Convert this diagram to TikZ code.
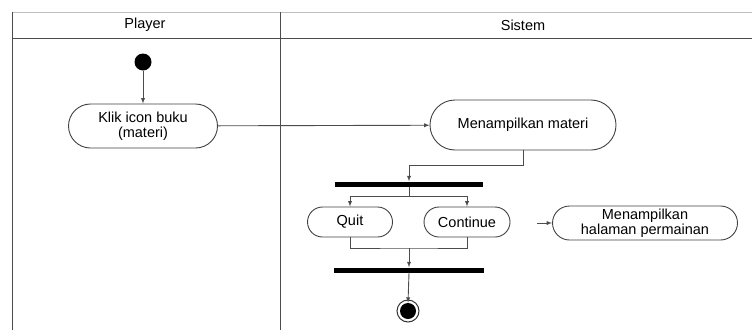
\documentclass[tikz,border=0pt]{standalone}
\usepackage{fontspec}
\setmainfont{Liberation Sans}
\usetikzlibrary{shapes.misc}

\begin{document}
\begin{tikzpicture}[x=1pt,y=-1pt,
    every node/.style={font=\fontsize{14.5}{15.5}\selectfont, inner sep=0pt},
    act/.style={rounded rectangle, draw=black!75, line width=0.9pt, align=center},
    bar/.style={rectangle, fill=black, minimum width=148pt, minimum height=5pt},
    flow/.style={draw=black!70, line width=0.9pt, -latex}]
    \useasboundingbox (0,0) rectangle (752,330);
    % swimlanes
    \draw [black!25] (12,12) -- (752,12);
    \draw [black!70, line width=0.9pt] (12,38) -- (752,38);
    \draw [black!70, line width=0.9pt] (12,12) -- (12,330);
    \draw [black!70, line width=0.9pt] (280,12) -- (280,330);
    \node (lanePlayer) at (145,25) {Player};
    \node (laneSistem) at (523,25) {Sistem};
    % player
    \node [circle, fill=black, minimum size=17pt] (start) at (143,62) {};
    \node [act, minimum width=149pt, minimum height=44pt] (klik) at (143,126) {Klik icon buku\\(materi)};
    % sistem
    \node [act, minimum width=186pt, minimum height=50pt] (tampil) at (523,125) {Menampilkan materi};
    \node [bar] (fork) at (409,184) {};
    \node [act, minimum width=85pt, minimum height=30pt] (quit) at (350,222) {Quit};
    \node [act, minimum width=86pt, minimum height=30pt] (cont) at (467,222) {Continue};
    \node [act, minimum width=185pt, minimum height=34pt] (halaman) at (645,223) {Menampilkan\\halaman permainan};
    \node [bar, minimum width=150pt] (join) at (409,270) {};
    \node [circle, fill=black, minimum size=16pt] (end) at (408,311) {};
    \draw [black!80, line width=1pt] (end) circle (11pt);
    \coordinate (merge) at (409,248);
    \coordinate (stub) at (537,223);
    % flows
    \draw [flow] (start) -- (klik);
    \draw [flow] (klik) -- (tampil);
    \draw [flow] (tampil.south) -- ++(0,15) -| (fork.north);
    \draw [flow] (fork.south) -- ++(0,10) -| (quit.north);
    \draw [flow] (fork.south) -- ++(0,10) -| (cont.north);
    \draw [draw=black!70, line width=0.9pt] (quit.south) |- (merge) -| (cont.south);
    \draw [flow] (merge) -- (join.north);
    \draw [flow] (join.south) -- (end.north);
    \draw [flow] (stub) -- (halaman.west);
\end{tikzpicture}
\end{document}
